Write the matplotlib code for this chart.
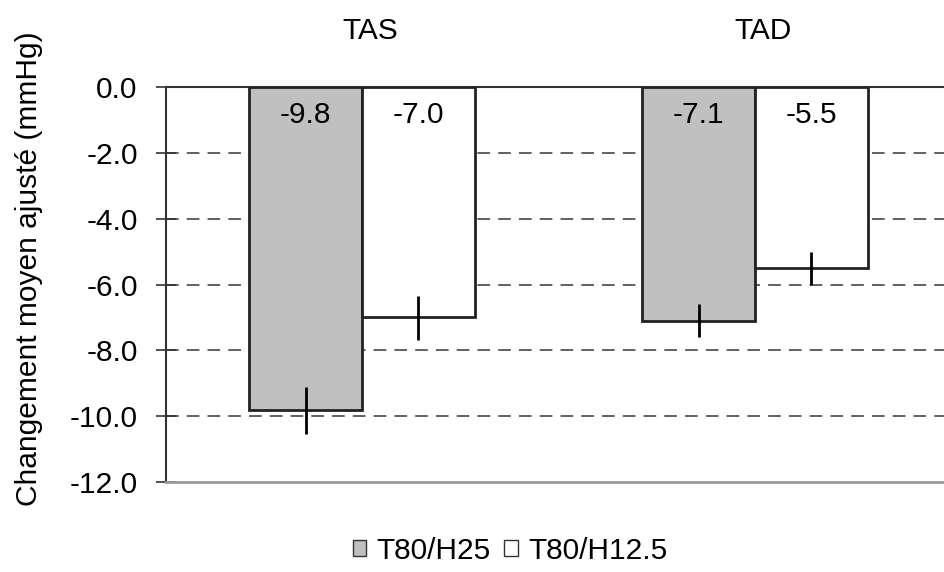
import matplotlib.pyplot as plt
import numpy as np
from matplotlib.patches import Patch

#%% data
groups = ['TAS', 'TAD']
series = ['T80/H25', 'T80/H12.5']
values = {'T80/H25': [-9.8, -7.1], 'T80/H12.5': [-7.0, -5.5]}
err_lo = {'T80/H25': [-10.55, -7.6], 'T80/H12.5': [-7.7, -6.0]}
err_hi = {'T80/H25': [-9.1, -6.6], 'T80/H12.5': [-6.35, -5.0]}
colors = {'T80/H25': '#c0c0c0', 'T80/H12.5': 'white'}
yticks = [0, -2, -4, -6, -8, -10, -12]

#%% figure
plt.rcParams['font.family'] = ['Liberation Sans', 'DejaVu Sans']
FS = 21.5
fig = plt.figure(figsize=(9.44, 5.72), dpi=100)
W, H = 944, 572
ax = fig.add_axes([165.5 / W, 1 - 482 / H, 786 / W, 395 / H])

x = np.arange(len(groups)) + 0.5
bw = 0.287
offsets = [-bw / 2, bw / 2]

for s, off in zip(series, offsets):
    xs = x + off
    ax.bar(xs, values[s], width=bw, color=colors[s], edgecolor='#222222',
           linewidth=2, zorder=3)
    ax.vlines(xs, err_lo[s], err_hi[s], color='black', linewidth=2, zorder=4)
    for xi, v in zip(xs, values[s]):
        ax.text(xi, -0.85, f'{v:.1f}', ha='center', va='center',
                fontsize=FS, zorder=5)

for g, xi in zip(groups, x):
    ax.text(xi + 0.02, 1.7, g, ha='center', va='center', fontsize=FS, clip_on=False)

ax.set_xlim(0, 2)
ax.set_ylim(-12, 0)
ax.set_yticks(yticks)
ax.set_yticklabels([f'{t:.1f}' for t in yticks], fontsize=FS)
ax.set_xticks([])
for t in yticks[1:-1]:
    ax.axhline(t, color='#555555', linestyle=(0, (7, 4.5)), linewidth=1.3, zorder=1)

ax.spines['right'].set_visible(False)
ax.spines['top'].set_color('#333333')
ax.spines['top'].set_linewidth(1.5)
ax.spines['bottom'].set_color('#999999')
ax.spines['bottom'].set_linewidth(2)
ax.spines['left'].set_color('#333333')
ax.spines['left'].set_linewidth(1.5)
ax.tick_params(axis='y', direction='inout', length=14, width=1.2, pad=13,
               color='#333333')

ax.set_ylabel('Changement moyen ajusté (mmHg)', fontsize=FS)
ax.yaxis.set_label_coords(-0.156, 0.54)

handles = [Patch(facecolor=colors[s], edgecolor='#333333', linewidth=1) for s in series]
fig.legend(handles, series, loc='center', bbox_to_anchor=(510 / W, 1 - 551 / H),
           ncol=2, frameon=False, fontsize=FS, handlelength=0.45, handleheight=0.45,
           handletextpad=0.35, columnspacing=0.45)

fig.savefig('out.png', dpi=100)
